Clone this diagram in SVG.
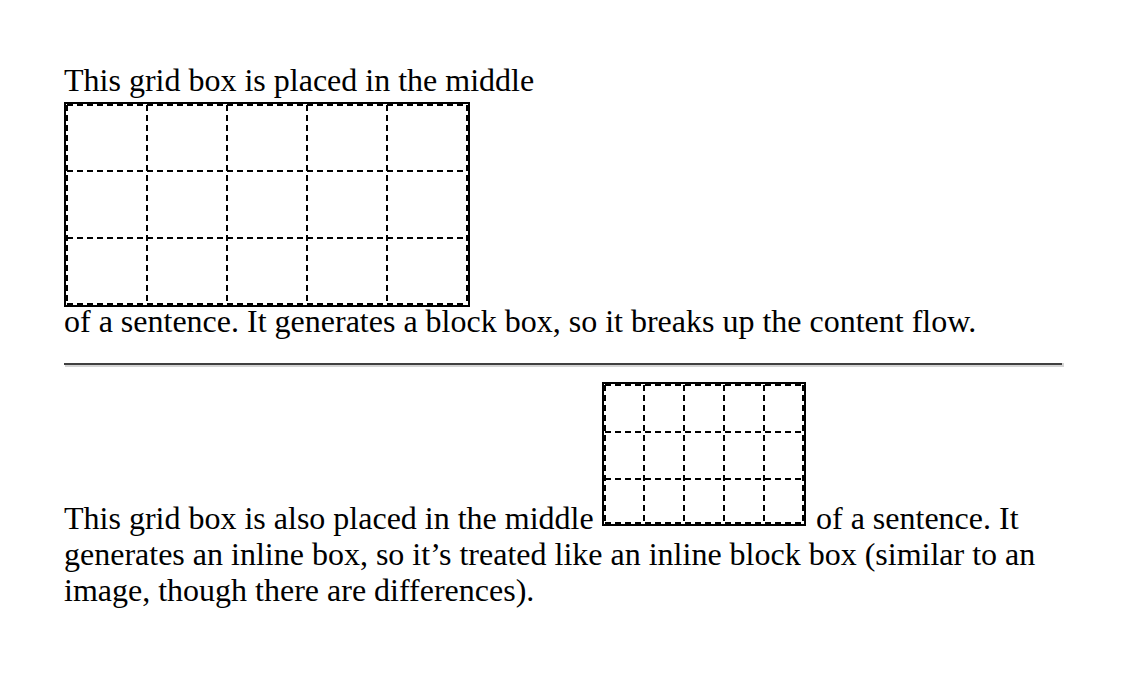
<svg xmlns="http://www.w3.org/2000/svg" width="1148" height="680" viewBox="0 0 1148 680">
<style>
  text { font-family: "Liberation Serif", "Times New Roman", serif; font-size: 32px; fill: #000; }
  .solid { fill: none; stroke: #000; stroke-width: 2; }
  .dash { fill: none; stroke: #000; stroke-width: 2; stroke-dasharray: 6 4; }
</style>
<rect x="0" y="0" width="1148" height="680" fill="#fff"/>

<g id="para1">
  <text x="64" y="91">This grid box is placed in the middle</text>
  <text x="64" y="332">of a sentence. It generates a block box, so it breaks up the content flow.</text>
</g>

<g id="grid1">
  <rect class="solid" x="65" y="103" width="404" height="203"/>
  <path class="dash" d="M67,105 H467 M67,171 H467 M67,238 H467 M67,304 H467 M67,105 V304 M147,105 V304 M227,105 V304 M307,105 V304 M387,105 V304 M467,105 V304"/>
</g>

<g id="rule">
  <rect x="64" y="363" width="998" height="2" fill="#404040"/>
  <rect x="65" y="365" width="999" height="2" fill="#d4d4d4"/>
  <rect x="1062" y="363" width="2" height="2" fill="#d4d4d4"/>
</g>

<g id="grid2">
  <rect class="solid" x="603" y="383" width="202" height="142"/>
  <path class="dash" d="M605,385 H803 M605,432 H803 M605,479 H803 M605,523 H803 M605,385 V523 M644,385 V523 M684,385 V523 M724,385 V523 M764,385 V523 M803,385 V523"/>
</g>

<g id="para2">
  <text x="64" y="529">This grid box is also placed in the middle</text>
  <text x="816" y="529">of a sentence. It</text>
  <text x="64" y="565">generates an inline box, so it’s treated like an inline block box (similar to an</text>
  <text x="64" y="601">image, though there are differences).</text>
</g>

<g id="connectors"></g>
</svg>
